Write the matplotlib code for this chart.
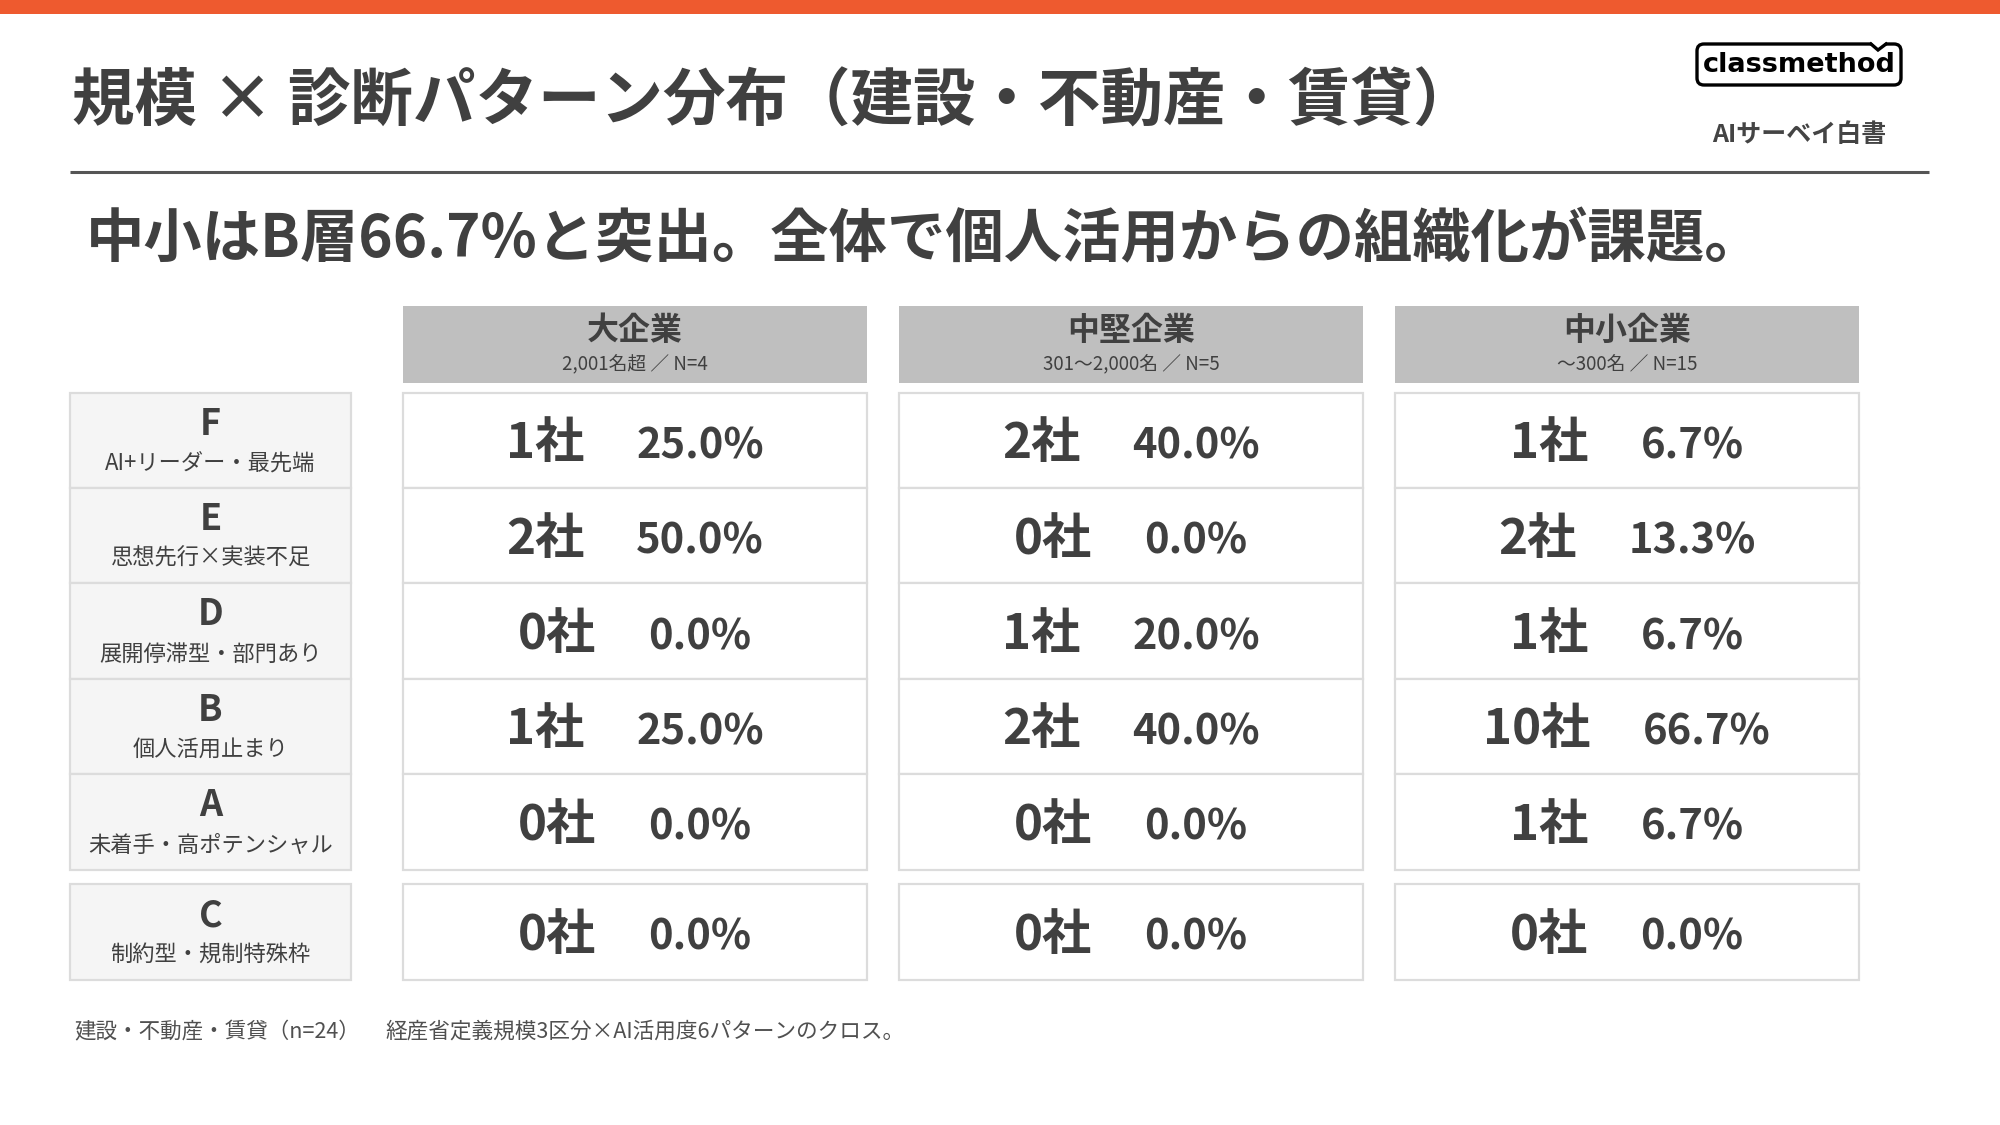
import matplotlib
matplotlib.use("Agg")
import matplotlib.pyplot as plt
from matplotlib.patches import Rectangle, FancyBboxPatch, Polygon

plt.rcParams["font.family"] = ["Noto Sans CJK JP", "DejaVu Sans"]

# ---- DATA ----------------------------------------------------------------
title = "規模 × 診断パターン分布（建設・不動産・賃貸）"
subtitle = "中小はB層66.7%と突出。全体で個人活用からの組織化が課題。"
footer_left = "建設・不動産・賃貸（n=24）"
footer_right = "経産省定義規模3区分×AI活用度6パターンのクロス。"

sizes = ["大企業", "中堅企業", "中小企業"]
size_notes = ["2,001名超 ／ N=4", "301〜2,000名 ／ N=5", "〜300名 ／ N=15"]

patterns = ["F", "E", "D", "B", "A", "C"]
pattern_names = ["AI+リーダー・最先端", "思想先行×実装不足", "展開停滞型・部門あり",
                 "個人活用止まり", "未着手・高ポテンシャル", "制約型・規制特殊枠"]

counts_large = [1, 2, 0, 1, 0, 0]
counts_mid = [2, 0, 1, 2, 0, 0]
counts_small = [1, 2, 1, 10, 1, 0]
pct_large = [25.0, 50.0, 0.0, 25.0, 0.0, 0.0]
pct_mid = [40.0, 0.0, 20.0, 40.0, 0.0, 0.0]
pct_small = [6.7, 13.3, 6.7, 66.7, 6.7, 0.0]

counts = [counts_large, counts_mid, counts_small]
pcts = [pct_large, pct_mid, pct_small]

# ---- STYLE ---------------------------------------------------------------
TXT = "#404040"
ORANGE = "#EE5A2F"
HEAD_BG = "#bfbfbf"
LABEL_BG = "#f5f5f5"
EDGE = "#dcdcdc"

fig = plt.figure(figsize=(20, 11.25), dpi=100)
ax = fig.add_axes([0, 0, 1, 1])
ax.set_xlim(0, 2000)
ax.set_ylim(1125, 0)
ax.axis("off")
renderer = fig.canvas.get_renderer()

# top bar, title, divider
ax.add_patch(Rectangle((0, 0), 2000, 14, color=ORANGE, lw=0))
ax.text(72, 102, title, fontsize=45, fontweight="bold", color=TXT, va="center")
ax.plot([70, 1929], [172, 172], color="#555555", lw=2.2, solid_capstyle="butt")
ax.text(86, 240, subtitle, fontsize=42, fontweight="bold", color=TXT, va="center")

# logo
ax.add_patch(FancyBboxPatch((1697, 44), 204, 41, boxstyle="round,pad=0,rounding_size=7",
                            fc="white", ec="black", lw=2.4))
ax.add_patch(Polygon([(1871, 42), (1886, 42), (1878, 49)], closed=True, fc="white", ec="none"))
ax.plot([1871, 1878, 1886], [44, 50, 44], color="black", lw=2.4, solid_joinstyle="miter")
ax.text(1799, 65, "classmethod", fontsize=19.5, fontweight="bold", color="black",
        ha="center", va="center", family="DejaVu Sans")
ax.text(1799, 135, "AIサーベイ白書", fontsize=18, fontweight="bold", color="#444444",
        ha="center", va="center")

# table geometry
col_x = [403, 899, 1395]
col_w = 464
label_x, label_w = 70, 281
row_top = [393, 488, 583, 679, 774, 884]
row_h = [95, 95, 96, 95, 96, 96]

# column headers
for j, (name, note) in enumerate(zip(sizes, size_notes)):
    ax.add_patch(Rectangle((col_x[j], 306), col_w, 77, fc=HEAD_BG, ec="none"))
    cx = col_x[j] + col_w / 2
    ax.text(cx, 331, name, fontsize=23, fontweight="bold", color=TXT, ha="center", va="center")
    ax.text(cx, 365, note, fontsize=13.5, color=TXT, ha="center", va="center")

# row labels
for i, (p, pname) in enumerate(zip(patterns, pattern_names)):
    y0, h = row_top[i], row_h[i]
    ax.add_patch(Rectangle((label_x, y0), label_w, h, fc=LABEL_BG, ec=EDGE, lw=1.6))
    cx = label_x + label_w / 2
    ax.text(cx, y0 + h * 0.31 + 2, p, fontsize=26, fontweight="bold", color=TXT,
            ha="center", va="center")
    ax.text(cx, y0 + h * 0.71 + 3, pname, fontsize=16, color=TXT, ha="center", va="center")

# data cells: count + percentage, centred together
gap = 52
for j in range(len(sizes)):
    for i in range(len(patterns)):
        y0, h = row_top[i], row_h[i]
        ax.add_patch(Rectangle((col_x[j], y0), col_w, h, fc="white", ec=EDGE, lw=1.6))
        base = y0 + h / 2 + 18
        t1 = ax.text(0, base, f"{counts[j][i]}社", fontsize=35.5, fontweight="bold",
                     color=TXT, ha="left", va="baseline")
        t2 = ax.text(0, base, f"{pcts[j][i]:.1f}%", fontsize=30, fontweight="bold",
                     color=TXT, ha="left", va="baseline")
        w1 = t1.get_window_extent(renderer).width
        w2 = t2.get_window_extent(renderer).width
        x0 = col_x[j] + col_w / 2 - (w1 + gap + w2) / 2
        t1.set_x(x0)
        t2.set_x(x0 + w1 + gap)

# footer
ax.text(74, 1032, footer_left, fontsize=15.5, color="#505050", va="center")
ax.text(385, 1032, footer_right, fontsize=15.6, color="#505050", va="center")

fig.savefig("out.png", dpi=100, facecolor="white")
